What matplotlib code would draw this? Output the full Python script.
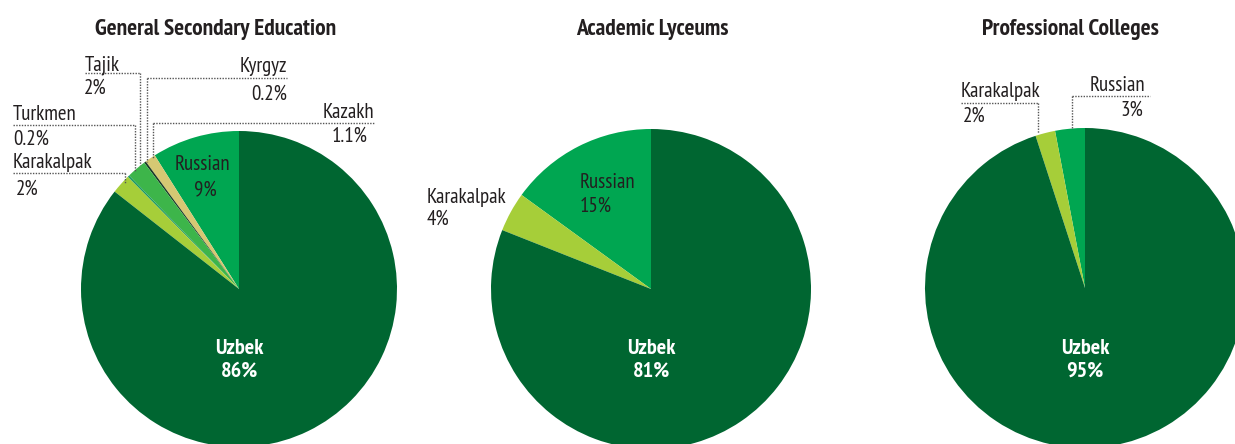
import matplotlib
matplotlib.use("Agg")
import matplotlib.pyplot as plt
from matplotlib import font_manager

names = {f.name for f in font_manager.fontManager.ttflist}
FAM = [n for n in ['PT Sans Narrow', 'Fira Sans Condensed', 'Liberation Sans Narrow'] if n in names][:1] + ['DejaVu Sans']
plt.rcParams['font.family'] = FAM

# ---- data ----
titles = ["General Secondary Education", "Academic Lyceums", "Professional Colleges"]

gse_langs = ["Russian", "Kazakh", "Kyrgyz", "Tajik", "Turkmen", "Karakalpak", "Uzbek"]
gse_values = [9, 1.1, 0.2, 2, 0.2, 2, 86]

al_langs = ["Russian", "Karakalpak", "Uzbek"]
al_values = [15, 4, 81]

pc_langs = ["Russian", "Karakalpak", "Uzbek"]
pc_values = [3, 2, 95]

colors = {
    "Uzbek": "#006631",
    "Russian": "#00a651",
    "Karakalpak": "#a6ce39",
    "Kazakh": "#d6c873",
    "Kyrgyz": "#1b3a26",
    "Tajik": "#3db54a",
    "Turkmen": "#1f9a62",
}

W, H = 1235, 444
fig = plt.figure(figsize=(W / 100, H / 100), dpi=100)
ax = fig.add_axes([0, 0, 1, 1])

def Y(py):
    return H - py

TXT = "#231f20"
LS = (0, (1, 1))
LC = "#555555"
FS = 15

def pie(langs, values, cx, cy, r):
    ax.pie(values, colors=[colors[l] for l in langs], startangle=90,
           counterclock=True, center=(cx, Y(cy)), radius=r,
           wedgeprops=dict(linewidth=0), frame=True)

def label(x, y, s, ha='left', color=TXT, weight='normal', size=FS):
    ax.text(x, Y(y), s, ha=ha, va='baseline', color=color,
            fontweight=weight, fontsize=size)

def leader(x0, x1, y, xv, yv):
    ax.plot([x0, x1], [Y(y), Y(y)], ls=LS, color=LC, lw=1)
    ax.plot([xv, xv], [Y(y), Y(yv)], ls=LS, color=LC, lw=1)

pies = [(gse_langs, gse_values, 239, 289, 158),
        (al_langs, al_values, 651, 289, 160),
        (pc_langs, pc_values, 1085, 288, 160)]
for langs, vals, cx, cy, r in pies:
    pie(langs, vals, cx, cy, r)

# titles
for t, x in zip(titles, [216, 652, 1070]):
    label(x, 35, t, ha='center', weight='bold', size=16.8)

def pct(v):
    return f"{v:g}%"

# pie 1 labels
v = dict(zip(gse_langs, gse_values))
label(85, 70, "Tajik"); label(84, 94, pct(v["Tajik"]))
leader(85, 140, 73, 140, 165)
label(287, 72, "Kyrgyz", ha='right'); label(287, 100, pct(v["Kyrgyz"]), ha='right')
leader(147, 287, 78, 147, 162)
label(374, 118, "Kazakh", ha='right'); label(368, 142, pct(v["Kazakh"]), ha='right')
leader(153, 374, 123, 153, 158)
label(13, 120, "Turkmen"); label(13, 145, pct(v["Turkmen"]))
leader(13, 135, 125, 135, 172)
label(13, 168, "Karakalpak"); label(16, 195, pct(v["Karakalpak"]))
leader(13, 125, 173, 125, 183)
label(175, 170, "Russian"); label(205, 195, pct(v["Russian"]), ha='center')
label(239, 354, "Uzbek", ha='center', color='white', weight='bold', size=16)
label(239, 377, pct(v["Uzbek"]), ha='center', color='white', weight='bold', size=16)

# pie 2 labels
v = dict(zip(al_langs, al_values))
label(427, 203, "Karakalpak"); label(427, 225, pct(v["Karakalpak"]))
label(580, 188, "Russian"); label(580, 212, pct(v["Russian"]))
label(651, 354, "Uzbek", ha='center', color='white', weight='bold', size=16)
label(651, 377, pct(v["Uzbek"]), ha='center', color='white', weight='bold', size=16)

# pie 3 labels
v = dict(zip(pc_langs, pc_values))
label(961, 97, "Karakalpak"); label(963, 122, pct(v["Karakalpak"]))
leader(961, 1038, 103, 1038, 133)
label(1090, 91, "Russian"); label(1143, 116, pct(v["Russian"]), ha='right')
leader(1072, 1150, 96, 1072, 128)
label(1085, 354, "Uzbek", ha='center', color='white', weight='bold', size=16)
label(1085, 377, pct(v["Uzbek"]), ha='center', color='white', weight='bold', size=16)

ax.set_xlim(0, W)
ax.set_ylim(0, H)
ax.set_aspect('equal')
ax.axis('off')
fig.savefig("out.png", dpi=100)
